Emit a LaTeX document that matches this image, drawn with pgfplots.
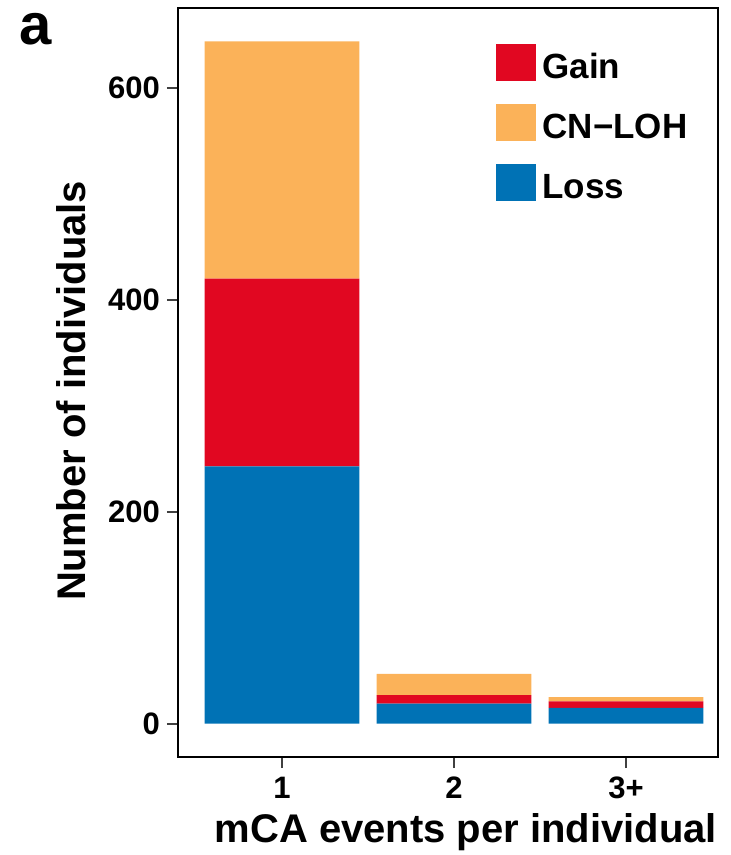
\documentclass[border=0pt]{standalone}
\usepackage{pgfplots}
\pgfplotsset{compat=1.18}
\usepackage{fontspec}
\setmainfont{Liberation Sans}

\definecolor{gainred}{RGB}{225,7,33}
\definecolor{cnloh}{RGB}{251,178,89}
\definecolor{lossblue}{RGB}{0,114,181}

\begin{document}
\begin{tikzpicture}
\useasboundingbox (-89pt,-49pt) rectangle (276.5pt,378.5pt);
\begin{axis}[
    width=270pt, height=374.5pt, scale only axis,
    clip=false,
    ybar stacked, bar width=0.9,
    xmin=0.395, xmax=3.535, ymin=-31.4, ymax=675.5,
    xtick={1,2,3}, xticklabels={1,2,3+},
    ytick={0,200,400,600},
    tick pos=left, tick align=outside,
    major tick length=5.5pt,
    tick style={line width=1pt, color=black!75},
    axis line style={line width=1.35pt},
    /pgf/number format/assume math mode=true,
    ticklabel style={font=\fontsize{15.5}{18}\selectfont\bfseries},
    xticklabel style={yshift=-1pt},
    xlabel={mCA events per individual},
    ylabel={Number of individuals},
    label style={font=\fontsize{20}{24}\selectfont\bfseries},
    xlabel style={at={(axis description cs:0.533,-0.1148)}, anchor=base},
    ylabel style={at={(axis description cs:-0.1722,0.4887)}, anchor=base},
    legend style={at={(axis description cs:0.589,0.953)}, anchor=north west,
        draw=none, fill=none, inner sep=0pt, row sep=9pt,
        font=\fontsize{17.5}{20}\selectfont\bfseries,
        nodes={inner sep=2pt, anchor=base west}},
    legend image code/.code={\fill[#1] (0pt,-1pt) rectangle (20pt,17.5pt);},
    legend cell align=left,
]
\addlegendimage{fill=gainred, draw=none}
\addlegendentry{\hspace{1pt}Gain}
\addlegendimage{fill=cnloh, draw=none}
\addlegendentry{\hspace{1pt}CN−LOH}
\addlegendimage{fill=lossblue, draw=none}
\addlegendentry{\hspace{1pt}Loss}

\addplot[fill=lossblue, draw=none] coordinates {(1,243) (2,19) (3,15)};
\addplot[fill=gainred, draw=none] coordinates {(1,177) (2,8) (3,6)};
\addplot[fill=cnloh, draw=none] coordinates {(1,224) (2,20) (3,4)};

\node[anchor=base west, inner sep=0pt, font=\fontsize{29}{32}\selectfont\bfseries]
    at (axis description cs:-0.2944,0.9506) {a};
\end{axis}
\end{tikzpicture}
\end{document}
